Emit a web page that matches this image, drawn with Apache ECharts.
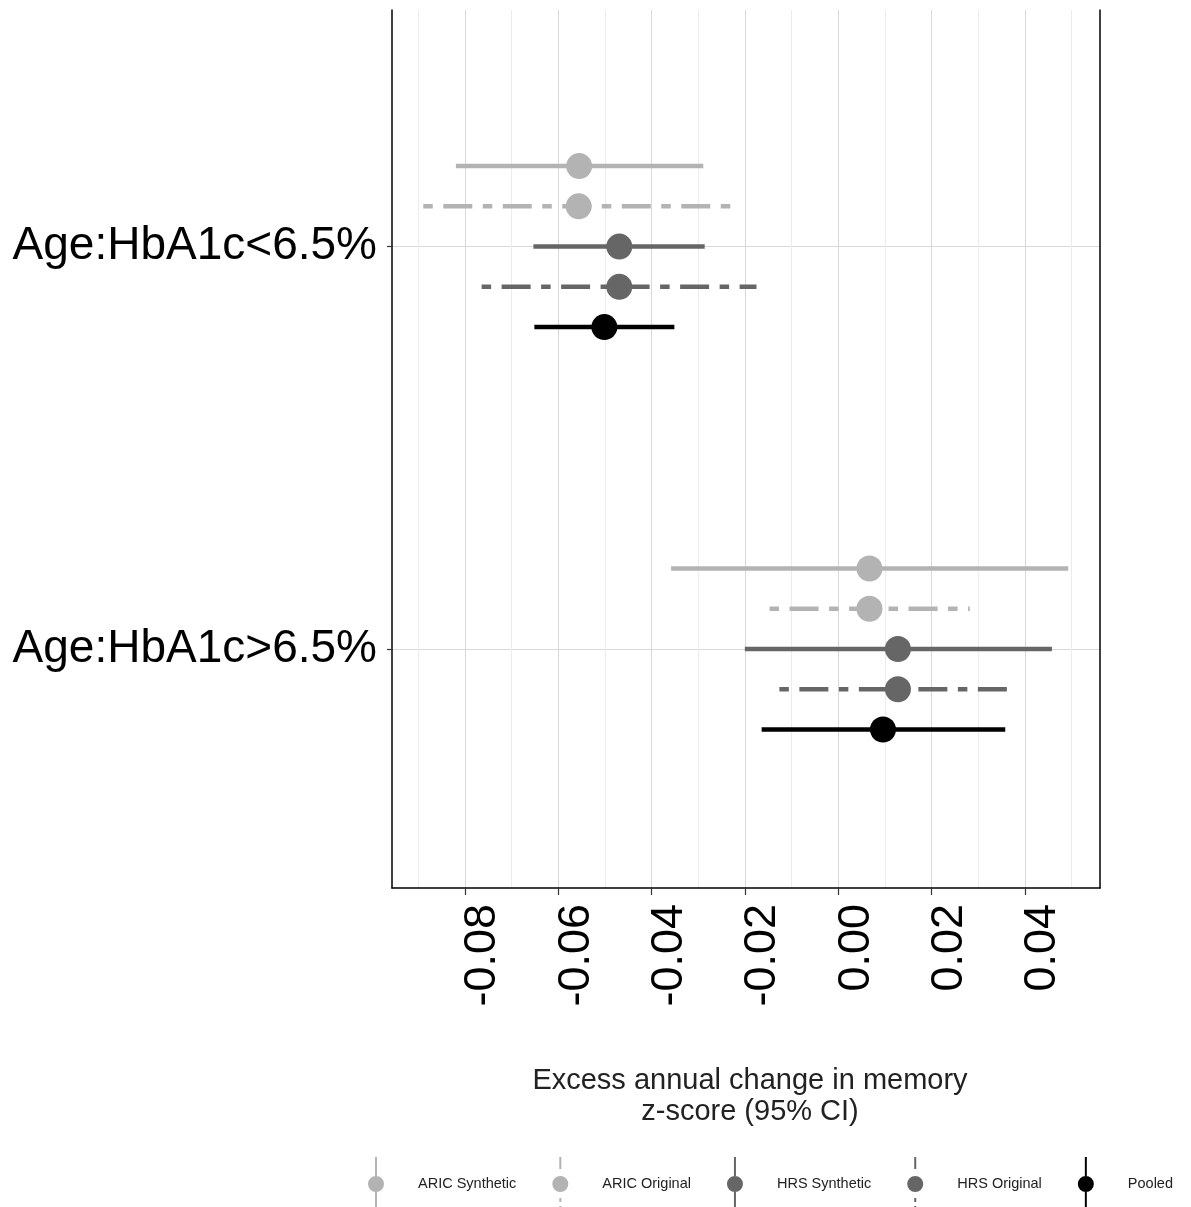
<!DOCTYPE html>
<html>
<head>
<meta charset="utf-8">
<script src="https://cdn.jsdelivr.net/npm/echarts@6/dist/echarts.min.js"></script>
<style>
html, body { margin: 0; padding: 0; background: #fff; }
#forestChart { width: 1191px; height: 1207px; }
</style>
</head>
<body>
<div id="forestChart"></div>
<script>
// 分组 (y 轴)
const groupLabels = ['Age:HbA1c<6.5%', 'Age:HbA1c>6.5%'];
const groupPos = [2, 1];
// 数据系列
const seriesNames = ['ARIC Synthetic', 'ARIC Original', 'HRS Synthetic', 'HRS Original', 'Pooled'];
const rowOffset = [0.2, 0.1, 0, -0.1, -0.2];
// 每个系列: [<6.5%, >6.5%]
const pointEst = [[-0.0555, 0.0067], [-0.0556, 0.0067], [-0.0469, 0.0128], [-0.0469, 0.0128], [-0.0501, 0.0096]];
const lowerCI = [[-0.0819, -0.0358], [-0.0889, -0.0147], [-0.0653, -0.0200], [-0.0764, -0.0126], [-0.0651, -0.0164]];
const upperCI = [[-0.0289, 0.0493], [-0.0229, 0.0282], [-0.0286, 0.0458], [-0.0175, 0.0365], [-0.0351, 0.0358]];
// x 轴刻度
const xTicks = [-0.08, -0.06, -0.04, -0.02, 0, 0.02, 0.04];
const xGridLines = [-0.09, -0.08, -0.07, -0.06, -0.05, -0.04, -0.03, -0.02, -0.01, 0, 0.01, 0.02, 0.03, 0.04, 0.05];

const X_MIN = -0.0956, X_MAX = 0.0561;
const Y_MIN = 0.406, Y_MAX = 2.588;
const colors = ['#b3b3b3', '#b3b3b3', '#666666', '#666666', '#000000'];
const twoDash = [9.5, 10.5, 29, 10.5];
const lineTypes = ['solid', twoDash, 'solid', twoDash, 'solid'];
const FONT = 'Liberation Sans, Arial, sans-serif';

// 图例图标：竖线 + 圆点
const solidIcon = 'path://M9,0h2v19h-2Z M9,35h2v19h-2Z M2,27a8,8 0 1,0 16,0a8,8 0 1,0 -16,0Z';
const dashIcon = 'path://M9,0h2v12h-2Z M9,41h2v4h-2Z M9,49h2v5h-2Z M2,27a8,8 0 1,0 16,0a8,8 0 1,0 -16,0Z';

const series = [];
// 点估计
seriesNames.forEach((name, i) => {
  series.push({
    name,
    type: 'scatter',
    z: 4,
    symbolSize: 26,
    itemStyle: { color: colors[i], opacity: 1 },
    data: groupPos.map((g, j) => [pointEst[i][j], g + rowOffset[i]])
  });
});
// 置信区间
seriesNames.forEach((name, i) => {
  groupPos.forEach((g, j) => {
    series.push({
      name,
      type: 'line',
      z: 3,
      symbol: 'none',
      silent: true,
      color: colors[i],
      lineStyle: { color: colors[i], width: 4.5, type: lineTypes[i], cap: 'butt' },
      data: [[lowerCI[i][j], g + rowOffset[i]], [upperCI[i][j], g + rowOffset[i]]]
    });
  });
});

const chart = echarts.init(document.getElementById('forestChart'));
chart.setOption({
  animation: false,
  backgroundColor: '#ffffff',
  textStyle: { fontFamily: FONT },
  grid: { left: 392, right: 91, top: 10, bottom: 319 },
  title: {
    text: 'Excess annual change in memory\nz-score (95% CI)',
    left: 745,
    top: 1060,
    textAlign: 'center',
    textStyle: { fontSize: 29, fontWeight: 'normal', lineHeight: 31, color: '#222', fontFamily: FONT }
  },
  legend: {
    left: 368,
    top: 1157,
    padding: 0,
    itemWidth: 16,
    itemHeight: 54,
    itemGap: 36,
    selectedMode: false,
    textStyle: { fontSize: 14.5, color: '#222', padding: [0, 0, 0, 29], fontFamily: FONT },
    data: seriesNames.map((name, i) => ({ name, icon: lineTypes[i] === 'solid' ? solidIcon : dashIcon }))
  },
  xAxis: [
    {
      type: 'value',
      position: 'bottom',
      min: X_MIN,
      max: X_MAX,
      axisLine: { show: true, onZero: false, lineStyle: { color: '#000', width: 1.5 } },
      axisTick: { show: true, length: 7, customValues: xTicks, lineStyle: { color: '#333', width: 1.2 } },
      axisLabel: {
        customValues: xTicks,
        rotate: 90,
        margin: 16,
        fontSize: 45,
        color: '#000',
        verticalAlign: 'top',
        lineHeight: 36,
        fontFamily: FONT,
        formatter: v => v.toFixed(2)
      },
      splitLine: { show: false }
    },
    {
      // 网格线
      type: 'value',
      position: 'top',
      min: X_MIN,
      max: X_MAX,
      axisLine: { show: false, onZero: false },
      axisTick: { show: false, customValues: xGridLines },
      axisLabel: { show: false },
      splitLine: { show: true, lineStyle: { color: ['#ececec', '#d9d9d9'], width: 1 } }
    }
  ],
  yAxis: [
    {
      type: 'value',
      position: 'left',
      min: Y_MIN,
      max: Y_MAX,
      axisLine: { show: true, onZero: false, lineStyle: { color: '#000', width: 1.5 } },
      axisTick: { show: true, length: 5, customValues: groupPos, lineStyle: { color: '#333', width: 1.2 } },
      axisLabel: {
        customValues: groupPos,
        margin: 15,
        fontSize: 46,
        color: '#000',
        fontFamily: FONT,
        formatter: v => groupLabels[groupPos.indexOf(Math.round(v))]
      },
      splitLine: { show: true, lineStyle: { color: '#d9d9d9', width: 1 } }
    },
    {
      type: 'value',
      position: 'right',
      min: Y_MIN,
      max: Y_MAX,
      axisLine: { show: true, onZero: false, lineStyle: { color: '#000', width: 1.5 } },
      axisTick: { show: false },
      axisLabel: { show: false },
      splitLine: { show: false }
    }
  ],
  series
});
</script>
</body>
</html>
